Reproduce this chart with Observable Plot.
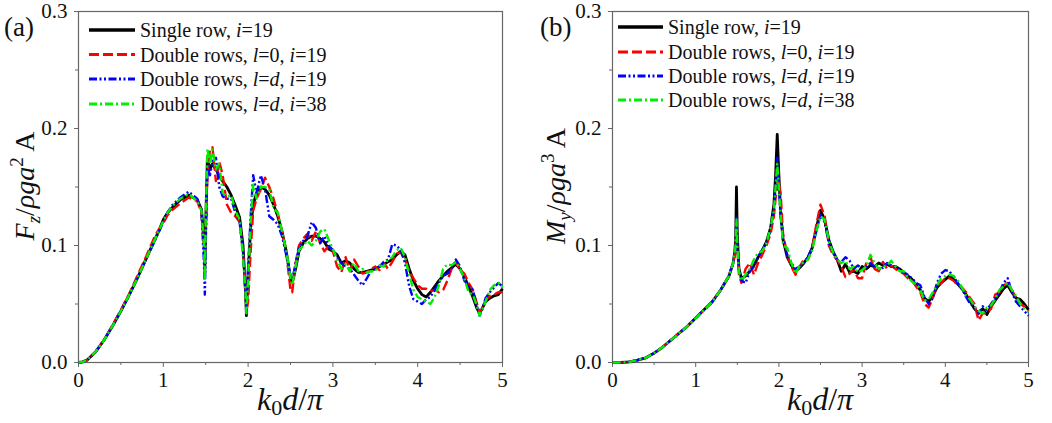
<!DOCTYPE html>
<html>
<head>
<meta charset="utf-8">
<script src="https://cdn.jsdelivr.net/npm/d3@7"></script>
<script src="https://cdn.jsdelivr.net/npm/@observablehq/plot@0.6"></script>
<style>
  html, body { margin: 0; padding: 0; background: #fff; }
  #wrap { display: flex; width: 1052px; height: 423px; }
  svg, svg text { font-family: "Liberation Serif", "Times New Roman", serif !important; }
</style>
</head>
<body>
<div id="wrap"></div>
<script>
// ---------- Data ----------
const seriesNames = ["Single row, i=19", "Double rows, l=0, i=19", "Double rows, l=d, i=19", "Double rows, l=d, i=38"];
const xTicks = [0, 1, 2, 3, 4, 5];
const xMinorTicks = [0.5, 1.5, 2.5, 3.5, 4.5];
const yTicks = [0, 0.1, 0.2, 0.3];
const yMinorTicks = [0.05, 0.15, 0.25];

// Panel (a): F_z / rho g a^2 A
const xsA = [0,0.05,0.1,0.2,0.3,0.4,0.5,0.6,0.7,0.8,
  0.9,0.95,1.0,1.05,1.1,1.2,1.3,1.4,1.45,1.48,
  1.49,1.5,1.52,1.55,1.58,1.62,1.66,1.7,1.75,1.8,
  1.85,1.9,1.94,1.97,1.98,2.0,2.03,2.06,2.1,2.15,
  2.2,2.25,2.3,2.35,2.4,2.45,2.5,2.52,2.56,2.6,
  2.65,2.7,2.75,2.8,2.85,2.9,2.95,3.0,3.05,3.1,
  3.15,3.2,3.25,3.3,3.35,3.4,3.45,3.5,3.55,3.6,
  3.65,3.7,3.75,3.8,3.85,3.9,3.95,4.0,4.05,4.1,
  4.15,4.2,4.25,4.3,4.35,4.4,4.45,4.5,4.55,4.6,
  4.65,4.7,4.73,4.76,4.8,4.85,4.9,4.95,5.0];
const fzSingle = [0,0.0005,0.002,0.009,0.019,0.031,0.044,0.058,0.073,0.089,
  0.105,0.113,0.122,0.128,0.132,0.139,0.143,0.139,0.131,0.105,
  0.078,0.12,0.175,0.165,0.170,0.165,0.160,0.155,0.150,0.143,
  0.134,0.124,0.100,0.060,0.040,0.075,0.115,0.135,0.145,0.150,
  0.148,0.143,0.135,0.125,0.112,0.095,0.072,0.068,0.080,0.095,
  0.102,0.106,0.108,0.108,0.106,0.103,0.097,0.095,0.092,0.085,
  0.087,0.085,0.080,0.077,0.077,0.078,0.079,0.080,0.082,0.084,
  0.086,0.088,0.092,0.095,0.092,0.080,0.070,0.063,0.058,0.056,
  0.060,0.065,0.070,0.074,0.078,0.081,0.084,0.080,0.073,0.065,
  0.056,0.046,0.042,0.046,0.052,0.055,0.057,0.058,0.063];
const fzDoubleL0 = [0,0.0005,0.002,0.009,0.019,0.032,0.045,0.059,0.075,0.091,
  0.108,0.114,0.119,0.126,0.130,0.136,0.141,0.138,0.128,0.100,
  0.085,0.11,0.16,0.182,0.184,0.155,0.172,0.160,0.135,0.128,
  0.125,0.120,0.095,0.065,0.045,0.052,0.095,0.130,0.140,0.148,
  0.158,0.150,0.140,0.127,0.112,0.094,0.062,0.060,0.085,0.100,
  0.106,0.110,0.104,0.112,0.102,0.095,0.100,0.095,0.082,0.077,
  0.090,0.078,0.088,0.082,0.076,0.077,0.080,0.082,0.079,0.085,
  0.080,0.086,0.093,0.094,0.088,0.078,0.072,0.066,0.063,0.063,
  0.061,0.062,0.060,0.062,0.070,0.080,0.086,0.079,0.076,0.068,
  0.062,0.050,0.043,0.046,0.053,0.057,0.058,0.060,0.060];
const fzDoubleLd19 = [0,0.0005,0.002,0.009,0.019,0.031,0.044,0.058,0.073,0.089,
  0.104,0.112,0.120,0.128,0.134,0.141,0.146,0.140,0.130,0.085,
  0.058,0.10,0.168,0.160,0.172,0.175,0.150,0.142,0.140,0.140,
  0.128,0.120,0.095,0.058,0.048,0.080,0.125,0.160,0.145,0.160,
  0.148,0.125,0.122,0.118,0.108,0.092,0.074,0.070,0.085,0.098,
  0.104,0.108,0.120,0.115,0.102,0.108,0.100,0.096,0.090,0.085,
  0.082,0.080,0.075,0.070,0.066,0.072,0.078,0.080,0.082,0.086,
  0.088,0.101,0.100,0.096,0.085,0.065,0.054,0.052,0.050,0.054,
  0.056,0.062,0.068,0.074,0.076,0.080,0.088,0.082,0.070,0.066,
  0.062,0.048,0.040,0.045,0.055,0.060,0.064,0.068,0.065];
const fzDoubleLd38 = [0,0.0005,0.002,0.009,0.019,0.031,0.044,0.058,0.073,0.089,
  0.105,0.113,0.121,0.128,0.133,0.140,0.144,0.138,0.130,0.100,
  0.070,0.12,0.183,0.170,0.182,0.165,0.170,0.145,0.142,0.143,
  0.130,0.122,0.090,0.060,0.042,0.070,0.120,0.152,0.140,0.150,
  0.150,0.148,0.132,0.128,0.112,0.096,0.072,0.066,0.082,0.096,
  0.100,0.104,0.100,0.104,0.112,0.114,0.105,0.097,0.088,0.080,
  0.084,0.078,0.085,0.078,0.080,0.077,0.078,0.078,0.083,0.082,
  0.088,0.090,0.096,0.098,0.090,0.075,0.062,0.056,0.054,0.052,
  0.050,0.056,0.066,0.080,0.084,0.083,0.086,0.080,0.072,0.060,
  0.058,0.048,0.040,0.045,0.052,0.062,0.066,0.068,0.064];

// Panel (b): M_y / rho g a^3 A
const xsB = [0,0.1,0.2,0.3,0.4,0.5,0.6,0.7,0.8,0.9,
  1.0,1.1,1.2,1.3,1.35,1.4,1.45,1.47,1.48,1.49,
  1.5,1.52,1.55,1.6,1.65,1.7,1.75,1.8,1.85,1.9,
  1.94,1.96,1.98,2.0,2.02,2.05,2.1,2.15,2.2,2.25,
  2.3,2.35,2.4,2.45,2.5,2.55,2.6,2.65,2.7,2.75,
  2.8,2.85,2.9,2.95,3.0,3.05,3.1,3.15,3.2,3.25,
  3.3,3.35,3.4,3.45,3.5,3.55,3.6,3.65,3.7,3.75,
  3.8,3.85,3.9,3.95,4.0,4.05,4.1,4.15,4.2,4.25,
  4.3,4.35,4.4,4.45,4.5,4.55,4.6,4.65,4.7,4.75,
  4.8,4.85,4.9,4.95,5.0];
const mySingle = [0,0,0.0005,0.002,0.004,0.008,0.013,0.019,0.025,0.031,
  0.038,0.045,0.052,0.062,0.068,0.074,0.085,0.095,0.105,0.150,
  0.110,0.080,0.072,0.074,0.078,0.083,0.090,0.096,0.103,0.115,
  0.135,0.160,0.195,0.160,0.130,0.105,0.090,0.083,0.078,0.081,
  0.085,0.090,0.098,0.115,0.130,0.122,0.105,0.095,0.088,0.078,
  0.084,0.077,0.078,0.076,0.082,0.080,0.083,0.082,0.085,0.083,
  0.084,0.082,0.082,0.080,0.077,0.074,0.071,0.066,0.062,0.055,
  0.052,0.057,0.064,0.068,0.071,0.074,0.071,0.067,0.063,0.058,
  0.052,0.046,0.042,0.046,0.041,0.048,0.053,0.058,0.063,0.066,
  0.060,0.055,0.054,0.050,0.045];
const myDoubleL0 = [0,0,0.0005,0.002,0.004,0.008,0.013,0.019,0.025,0.031,
  0.038,0.045,0.052,0.062,0.068,0.074,0.085,0.092,0.098,0.115,
  0.098,0.075,0.068,0.080,0.085,0.075,0.085,0.092,0.100,0.110,
  0.125,0.140,0.150,0.155,0.145,0.110,0.092,0.082,0.075,0.082,
  0.088,0.088,0.098,0.118,0.135,0.125,0.100,0.092,0.088,0.082,
  0.073,0.076,0.080,0.072,0.072,0.085,0.090,0.080,0.078,0.086,
  0.080,0.083,0.080,0.078,0.076,0.072,0.070,0.065,0.060,0.050,
  0.047,0.055,0.066,0.068,0.072,0.072,0.070,0.066,0.064,0.060,
  0.055,0.050,0.036,0.042,0.042,0.046,0.058,0.060,0.066,0.068,
  0.062,0.055,0.050,0.048,0.044];
const myDoubleLd19 = [0,0,0.0005,0.002,0.004,0.008,0.013,0.019,0.025,0.031,
  0.038,0.045,0.052,0.062,0.068,0.074,0.085,0.092,0.100,0.125,
  0.100,0.080,0.070,0.068,0.078,0.082,0.090,0.096,0.103,0.113,
  0.130,0.150,0.175,0.150,0.125,0.105,0.092,0.085,0.080,0.082,
  0.085,0.090,0.098,0.112,0.126,0.120,0.102,0.094,0.087,0.086,
  0.090,0.087,0.080,0.083,0.080,0.082,0.085,0.082,0.080,0.081,
  0.085,0.083,0.081,0.079,0.077,0.075,0.072,0.068,0.066,0.056,
  0.050,0.055,0.068,0.076,0.079,0.078,0.073,0.068,0.063,0.056,
  0.050,0.048,0.042,0.048,0.045,0.050,0.055,0.060,0.068,0.072,
  0.060,0.052,0.048,0.044,0.040];
const myDoubleLd38 = [0,0,0.0005,0.002,0.004,0.008,0.013,0.019,0.025,0.031,
  0.038,0.045,0.052,0.062,0.068,0.074,0.085,0.094,0.100,0.122,
  0.100,0.078,0.070,0.075,0.080,0.088,0.094,0.095,0.102,0.115,
  0.130,0.150,0.170,0.150,0.128,0.100,0.098,0.085,0.076,0.083,
  0.086,0.088,0.096,0.112,0.125,0.122,0.104,0.094,0.088,0.085,
  0.087,0.080,0.082,0.077,0.079,0.082,0.092,0.085,0.080,0.082,
  0.083,0.087,0.082,0.078,0.078,0.073,0.069,0.067,0.062,0.053,
  0.054,0.060,0.066,0.072,0.074,0.075,0.074,0.070,0.064,0.057,
  0.054,0.048,0.044,0.042,0.047,0.049,0.054,0.062,0.065,0.068,
  0.062,0.057,0.050,0.046,0.043];

// ---------- Styles ----------
const styles = [
  {color: "#000000", width: 2.8, dash: null},
  {color: "#ff0000", width: 2.4, dash: "10,4"},
  {color: "#0000ff", width: 2.4, dash: "8,2.5,2,2.5,2,2.5"},
  {color: "#00ee00", width: 2.4, dash: "8,3,2,3"}
];
// legend rich text pieces: [text, italic]
const legendParts = [
  [["Single row, ", false], ["i", true], ["=19", false]],
  [["Double rows, ", false], ["l", true], ["=0, ", false], ["i", true], ["=19", false]],
  [["Double rows, ", false], ["l", true], ["=", false], ["d", true], [", ", false], ["i", true], ["=19", false]],
  [["Double rows, ", false], ["l", true], ["=", false], ["d", true], [", ", false], ["i", true], ["=38", false]]
];

function makePanel(cfg) {
  const marks = [
    Plot.frame({stroke: "#666", strokeWidth: 1.2}),
    Plot.axisX({ticks: xTicks, tickSize: 5, tickPadding: 5, stroke: "#666", fill: "#111", tickFormat: d => String(d), label: null, fontSize: 21}),
    Plot.axisX({ticks: xMinorTicks, tickSize: 3, stroke: "#666", tickFormat: () => "", label: null}),
    Plot.axisY({ticks: yTicks, tickSize: 4, tickPadding: 7, stroke: "#666", fill: "#111", tickFormat: d3.format(".1f"), label: null, fontSize: 21}),
    Plot.axisY({ticks: yMinorTicks, tickSize: 3, stroke: "#666", tickFormat: () => "", label: null})
  ];
  cfg.series.forEach((ys, k) => {
    const rows = cfg.xs.map((x, i) => ({x, y: ys[i]}));
    const st = styles[k];
    marks.push(Plot.line(rows, {x: "x", y: "y", stroke: st.color, strokeWidth: st.width,
      strokeDasharray: st.dash || undefined, strokeLinejoin: "round", strokeLinecap: "butt"}));
  });
  const svg = Plot.plot({
    width: cfg.width, height: 423,
    marginLeft: cfg.ml, marginRight: cfg.mr, marginTop: 11, marginBottom: 61,
    style: {fontFamily: "'Liberation Serif', serif", fontSize: "21px", background: "white", color: "#111"},
    x: {domain: [0, 5]},
    y: {domain: [0, 0.3]},
    marks
  });
  const s = d3.select(svg);
  // panel label
  s.append("text").attr("x", cfg.labX).attr("y", 36).attr("font-size", 27)
    .attr("text-anchor", "start").text(cfg.panel);
  // x label: k0 d / pi
  const cx = (cfg.ml + cfg.width - cfg.mr) / 2;
  const xl = s.append("text").attr("x", cx).attr("y", 410).attr("text-anchor", "middle")
    .attr("font-size", 32);
  xl.append("tspan").attr("font-style", "italic").text("k");
  xl.append("tspan").attr("font-size", 22).attr("dy", 5).text("0");
  xl.append("tspan").attr("font-style", "italic").attr("dy", -5).text("d");
  xl.append("tspan").text("/");
  xl.append("tspan").attr("font-style", "italic").text("π");
  // y label
  const yl = s.append("text").attr("transform", `translate(${cfg.ylX},186) rotate(-90)`)
    .attr("text-anchor", "middle").attr("font-size", 28);
  yl.append("tspan").attr("font-style", "italic").text(cfg.yVar);
  yl.append("tspan").attr("font-style", "italic").attr("font-size", 19).attr("dy", 6).text(cfg.ySub);
  yl.append("tspan").attr("dy", -6).text("/");
  yl.append("tspan").attr("font-style", "italic").text("ρga");
  yl.append("tspan").attr("font-size", 19).attr("dy", -11).text(cfg.yPow);
  yl.append("tspan").attr("dy", 11).text(" A");
  // legend
  legendParts.forEach((parts, k) => {
    const y = cfg.legY[k];
    const st = styles[k];
    s.append("line").attr("x1", cfg.legX1).attr("x2", cfg.legX2).attr("y1", y).attr("y2", y)
      .attr("stroke", st.color).attr("stroke-width", k === 0 ? 3.4 : 2.8)
      .attr("stroke-dasharray", st.dash);
    const t = s.append("text").attr("x", cfg.legX2 + 5).attr("y", y + 7)
      .attr("text-anchor", "start").attr("font-size", 20).attr("fill", "#111");
    parts.forEach(([txt, it]) => {
      const sp = t.append("tspan").text(txt);
      if (it) sp.attr("font-style", "italic");
    });
  });
  return svg;
}

const wrap = document.getElementById("wrap");
wrap.appendChild(makePanel({
  xs: xsA, series: [fzSingle, fzDoubleL0, fzDoubleLd19, fzDoubleLd38],
  width: 520, ml: 78, mr: 18, panel: "(a)", labX: 4,
  yVar: "F", ySub: "z", yPow: "2", ylX: 34,
  legX1: 89, legX2: 135, legY: [30, 54.5, 79, 104]
}));
wrap.appendChild(makePanel({
  xs: xsB, series: [mySingle, myDoubleL0, myDoubleLd19, myDoubleLd38],
  width: 532, ml: 92, mr: 24, panel: "(b)", labX: 20,
  yVar: "M", ySub: "y", yPow: "3", ylX: 45,
  legX1: 98, legX2: 143, legY: [27, 52, 76, 100]
}));
</script>
</body>
</html>
